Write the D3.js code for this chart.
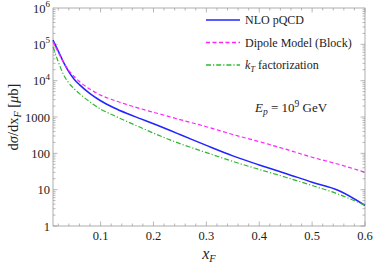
<!DOCTYPE html>
<html>
<head>
<meta charset="utf-8">
<script src="https://cdn.jsdelivr.net/npm/d3@7"></script>
<style>
  body { margin: 0; background: #fff; }
  text { font-family: "Liberation Serif", "DejaVu Serif", serif; fill: #222; }
</style>
</head>
<body>
<div id="chart"></div>
<script>
// x_F grid shared by all three curves
const xF = [0.01, 0.02, 0.03, 0.04, 0.05, 0.06, 0.08, 0.1, 0.125, 0.15, 0.175, 0.2,
            0.25, 0.3, 0.35, 0.4, 0.45, 0.5, 0.55, 0.6];
// dsigma/dxF [mub]
const nloPQCD = [1.3e5, 6.5e4, 3.2e4, 1.75e4, 1.1e4, 7800, 4400, 2800, 1800, 1250, 900, 650,
                 330, 165, 85, 48, 28, 16, 9.5, 3.7];
const dipoleBlock = [1.2e5, 6e4, 3.2e4, 1.9e4, 1.3e4, 9500, 5800, 4000, 2900, 2200, 1700, 1350,
                     850, 540, 330, 210, 130, 78, 50, 30];
const ktFact = [8.5e4, 3.3e4, 1.45e4, 8600, 6000, 4400, 2600, 1650, 1100, 750, 520, 360,
                185, 105, 60, 36, 22, 13, 7.5, 3.7];

const xTicks = [0.1, 0.2, 0.3, 0.4, 0.5, 0.6];
const yTicks = [1, 10, 100, 1000, 1e4, 1e5, 1e6];
const yTickLabels = ["1", "10", "100", "1000", "10^4", "10^5", "10^6"];

const width = 374, height = 268;
const margin = {top: 8, right: 9, bottom: 42, left: 53};

const svg = d3.select("#chart").append("svg")
    .attr("width", width)
    .attr("height", height);

const x = d3.scaleLinear().domain([0.01, 0.6]).range([margin.left, width - margin.right]);
const y = d3.scaleLog().domain([1, 1e6]).range([height - margin.bottom, margin.top]);

const x0 = x.range()[0], x1 = x.range()[1];
const y0 = y.range()[0], y1 = y.range()[1];

// frame
svg.append("rect")
    .attr("x", x0).attr("y", y1)
    .attr("width", x1 - x0).attr("height", y0 - y1)
    .attr("fill", "none").attr("stroke", "#999").attr("stroke-width", 0.8);

const tickCol = "#999";
const ticks = svg.append("g").attr("stroke", tickCol).attr("stroke-width", 0.7);

// x ticks, major and minor, bottom and top
d3.range(0.02, 0.6001, 0.02).forEach(v => {
    const major = xTicks.some(t => Math.abs(t - v) < 1e-6);
    const len = major ? 4.5 : 2.5;
    ticks.append("line").attr("x1", x(v)).attr("x2", x(v)).attr("y1", y0).attr("y2", y0 - len);
    ticks.append("line").attr("x1", x(v)).attr("x2", x(v)).attr("y1", y1).attr("y2", y1 + len);
});

// y ticks, major and minor, left and right
for (let e = 0; e < 6; e++) {
    for (let m = 1; m <= 9; m++) {
        const v = m * Math.pow(10, e);
        const len = m === 1 ? 4.5 : 2.5;
        ticks.append("line").attr("x1", x0).attr("x2", x0 + len).attr("y1", y(v)).attr("y2", y(v));
        ticks.append("line").attr("x1", x1).attr("x2", x1 - len).attr("y1", y(v)).attr("y2", y(v));
    }
}

// x tick labels
svg.append("g").selectAll("text")
    .data(xTicks)
    .enter().append("text")
    .attr("x", d => x(d))
    .attr("y", y0 + 13.5)
    .attr("text-anchor", "middle")
    .attr("font-size", 12.5)
    .text(d => d3.format(".1f")(d));

// y tick labels (powers drawn with superscripts)
const yl = svg.append("g").selectAll("text")
    .data(yTicks)
    .enter().append("text")
    .attr("x", x0 - 3)
    .attr("y", d => y(d) + 4.5)
    .attr("text-anchor", "end")
    .attr("font-size", 12.5);
yl.each(function (d, i) {
    const lab = yTickLabels[i];
    const t = d3.select(this);
    if (lab.includes("^")) {
        const [b, p] = lab.split("^");
        t.append("tspan").text(b);
        t.append("tspan").attr("dy", -5.5).attr("font-size", 9).text(p);
    } else {
        t.text(lab);
    }
});

// axis titles
const yt = svg.append("text")
    .attr("transform", `translate(18, ${(y0 + y1) / 2}) rotate(-90)`)
    .attr("text-anchor", "middle")
    .attr("font-size", 14.5);
yt.append("tspan").text("d");
yt.append("tspan").attr("font-style", "italic").text("σ");
yt.append("tspan").text("/dx");
yt.append("tspan").attr("font-style", "italic").attr("font-size", 10).attr("dy", 3).text("F");
yt.append("tspan").attr("dy", -3).text(" [");
yt.append("tspan").attr("font-style", "italic").text("μ");
yt.append("tspan").text("b]");

const xt = svg.append("text")
    .attr("x", (x0 + x1) / 2)
    .attr("y", height - 9)
    .attr("text-anchor", "middle")
    .attr("font-size", 16)
    .attr("font-style", "italic");
xt.append("tspan").text("x");
xt.append("tspan").attr("font-size", 10.5).attr("dy", 3).text("F");

// curves
const series = [
    {name: "NLO pQCD", values: nloPQCD, color: "#2323ff", dash: null, w: 1.5},
    {name: "Dipole Model (Block)", values: dipoleBlock, color: "#ff22ff", dash: "4,2.5", w: 1.2},
    {name: "kT factorization", values: ktFact, color: "#2eb82e", dash: "5,2,1.2,2", w: 1.2}
];

const line = d3.line()
    .x(d => x(d[0]))
    .y(d => y(d[1]))
    .curve(d3.curveMonotoneX);

svg.append("g").selectAll("path")
    .data(series)
    .enter().append("path")
    .attr("d", s => line(xF.map((v, i) => [v, s.values[i]])))
    .attr("fill", "none")
    .attr("stroke", s => s.color)
    .attr("stroke-width", s => s.w)
    .attr("stroke-dasharray", s => s.dash);

// legend
const lg = svg.append("g");
series.forEach((s, i) => {
    const ly = 20 + i * 22.5;
    lg.append("line")
        .attr("x1", 206).attr("x2", 240)
        .attr("y1", ly).attr("y2", ly)
        .attr("stroke", s.color)
        .attr("stroke-width", 1.5)
        .attr("stroke-dasharray", s.dash);
    const t = lg.append("text")
        .attr("x", 245).attr("y", ly + 4)
        .attr("font-size", 12);
    if (i === 2) {
        t.append("tspan").attr("font-style", "italic").text("k");
        t.append("tspan").attr("font-style", "italic").attr("font-size", 8.5).attr("dy", 2.5).text("T");
        t.append("tspan").attr("dy", -2.5).text(" factorization");
    } else {
        t.text(s.name);
    }
});

// energy annotation
const ea = svg.append("text")
    .attr("x", 255).attr("y", 112)
    .attr("font-size", 13);
ea.append("tspan").attr("font-style", "italic").text("E");
ea.append("tspan").attr("font-style", "italic").attr("font-size", 9.5).attr("dy", 3).text("p");
ea.append("tspan").attr("dy", -3).text(" = 10");
ea.append("tspan").attr("font-size", 9.5).attr("dy", -5.5).text("9");
ea.append("tspan").attr("dy", 5.5).text(" GeV");
</script>
</body>
</html>
